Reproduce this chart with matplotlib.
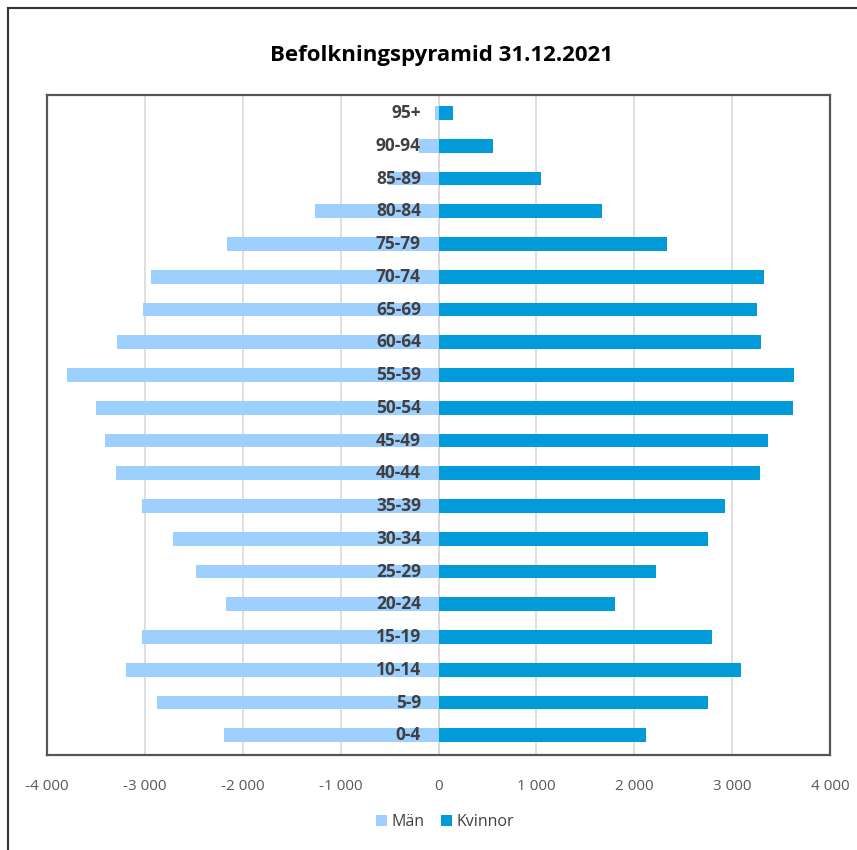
import matplotlib.pyplot as plt
import numpy as np

plt.rcParams["font.family"] = ["Open Sans", "DejaVu Sans"]

# åldersgrupper, nerifrån och upp
alder = ["0-4", "5-9", "10-14", "15-19", "20-24", "25-29", "30-34", "35-39",
         "40-44", "45-49", "50-54", "55-59", "60-64", "65-69", "70-74",
         "75-79", "80-84", "85-89", "90-94", "95+"]
man = [2190, 2880, 3190, 3030, 2170, 2480, 2710, 3030, 3290, 3410, 3500,
       3800, 3280, 3020, 2940, 2160, 1260, 520, 195, 40]
kvinnor = [2120, 2750, 3090, 2790, 1800, 2220, 2750, 2930, 3280, 3370, 3620,
           3630, 3300, 3250, 3330, 2330, 1670, 1045, 555, 150]

fig = plt.figure(figsize=(8.57, 8.5), dpi=100)
ax = fig.add_axes([47 / 857, 1 - 755 / 850, (830 - 47) / 857, (755 - 95) / 850])

y = np.arange(len(alder))
ax.barh(y, -np.array(man), height=0.42, color="#9DCFFF", label="Män", zorder=2)
ax.barh(y, kvinnor, height=0.42, color="#009BD8", label="Kvinnor", zorder=2)

# etiketter vid nollan
for i, a in enumerate(alder):
    ax.text(-180, i, a, ha="right", va="center", fontsize=12.5, fontweight="bold",
            color="#404040", zorder=3)

ax.set_xlim(-4000, 4000)
ax.set_ylim(-0.6, len(alder) - 0.45)
ax.set_xticks(np.arange(-4000, 4001, 1000))
ax.set_xticklabels([f"{v:,}".replace(",", " ") if v != 0 else "0"
                    for v in range(-4000, 4001, 1000)])
ax.set_yticks([])
ax.tick_params(axis="x", length=0, pad=17, labelsize=11, labelcolor="#595959")
ax.grid(axis="x", color="#D9D9D9", linewidth=1.2, zorder=0)
ax.axvline(0, color="#D9D9D9", linewidth=1.2, zorder=1)
for s in ax.spines.values():
    s.set_color("#555555")
    s.set_linewidth(1.6)

fig.text(441 / 857, 1 - 55 / 850, "Befolkningspyramid 31.12.2021", ha="center",
         va="center", fontsize=16, fontweight="bold", color="black")

fig.legend(loc="center", bbox_to_anchor=(445 / 857, 1 - 822 / 850), ncol=2,
           frameon=False, fontsize=11.5, handlelength=0.7, handleheight=0.7,
           columnspacing=1.0, handletextpad=0.3, labelcolor="#404040")

# ram runt diagrammet
fig.add_artist(plt.Line2D([8 / 857, 8 / 857], [0, 1 - 8 / 850], color="#333333",
                          linewidth=1.5, transform=fig.transFigure))
fig.add_artist(plt.Line2D([8 / 857, 1], [1 - 8 / 850, 1 - 8 / 850], color="#333333",
                          linewidth=1.5, transform=fig.transFigure))

fig.savefig("out.png", dpi=100)
